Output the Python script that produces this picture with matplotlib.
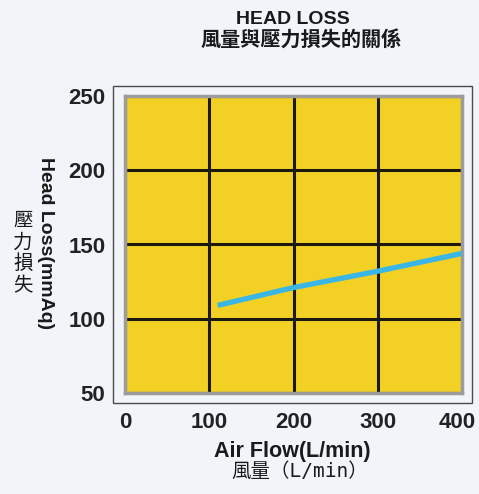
import matplotlib
matplotlib.use("Agg")
import matplotlib.pyplot as plt
from matplotlib.patches import Rectangle
from matplotlib.transforms import ScaledTranslation

# data
air_flow = [110, 200, 300, 400]
head_loss = [109, 121, 132, 144]
x_ticks = [0, 100, 200, 300, 400]
y_ticks = [50, 100, 150, 200, 250]

W, H = 479, 494
bg = "#f1f5f9"
yellow = "#f2d124"
blue = "#3ab6e6"

num_font = ["DejaVu Sans Condensed", "Liberation Sans Narrow", "Liberation Sans", "DejaVu Sans"]
lat_font = ["Liberation Sans", "DejaVu Sans"]
cjk_font = ["Noto Sans CJK TC", "DejaVu Sans"]

fig = plt.figure(figsize=(W / 100, H / 100), dpi=100)
fig.patch.set_facecolor(bg)

# axes placed in pixel terms of the reference
ax = fig.add_axes([125 / W, 1 - 393 / H, 337 / W, 297 / H])
ax.set_facecolor(yellow)
ax.plot(air_flow, head_loss, color=blue, linewidth=3.8, solid_capstyle="butt", zorder=3)

ax.set_xlim(0, 400)
ax.set_ylim(50, 250)
ax.set_xticks(x_ticks)
ax.set_yticks(y_ticks)
ax.grid(True, color="#1c1812", linewidth=2.2, zorder=1)
ax.set_axisbelow(True)
ax.tick_params(length=0, pad=14)
for lab in ax.get_xticklabels() + ax.get_yticklabels():
    lab.set_family(num_font)
    lab.set_fontweight("bold")
    lab.set_fontstretch("condensed")
    lab.set_fontsize(16)
    lab.set_color("#222222")
for s in ax.spines.values():
    s.set_color("#9c9c9c")
    s.set_linewidth(2.5)

# last x label sits a little left of the axis end, like the original
last = ax.get_xticklabels()[-1]
last.set_transform(last.get_transform() + ScaledTranslation(-5 / 100, 0, fig.dpi_scale_trans))

# thin outer frame
fig.patches.append(Rectangle((113 / W, 1 - 403 / H), 359 / W, 317 / H,
                             transform=fig.transFigure, fill=False,
                             edgecolor="#4a4a4a", linewidth=1.0))

# titles
fig.text(293 / W, 1 - 19 / H, "HEAD LOSS", ha="center", va="center",
         fontsize=14, fontweight="bold", family=lat_font, color="#1a1a1a")
fig.text(301 / W, 1 - 39 / H, "風量與壓力損失的關係", ha="center", va="center",
         fontsize=14.5, fontweight="bold", family=cjk_font, color="#1a1a1a")

# axis labels
fig.text(292 / W, 1 - 451 / H, "Air Flow(L/min)", ha="center", va="center",
         fontsize=15.5, fontweight="bold", family=lat_font, color="#1a1a1a")
fig.text(300 / W, 1 - 471 / H, "風量（L/min）", ha="center", va="center",
         fontsize=14, family=["DejaVu Sans Mono", "Noto Sans CJK TC"], color="#1a1a1a")
fig.text(45 / W, 1 - 243 / H, "Head Loss(mmAq)", ha="center", va="center", rotation=-90,
         fontsize=14, fontweight="bold", family=lat_font, color="#1a1a1a")
fig.text(23 / W, 1 - 253 / H, "壓\n力\n損\n失", ha="center", va="center",
         fontsize=14, linespacing=1.05, family=cjk_font, color="#1a1a1a")

fig.savefig("out.png", dpi=100, facecolor=bg)
